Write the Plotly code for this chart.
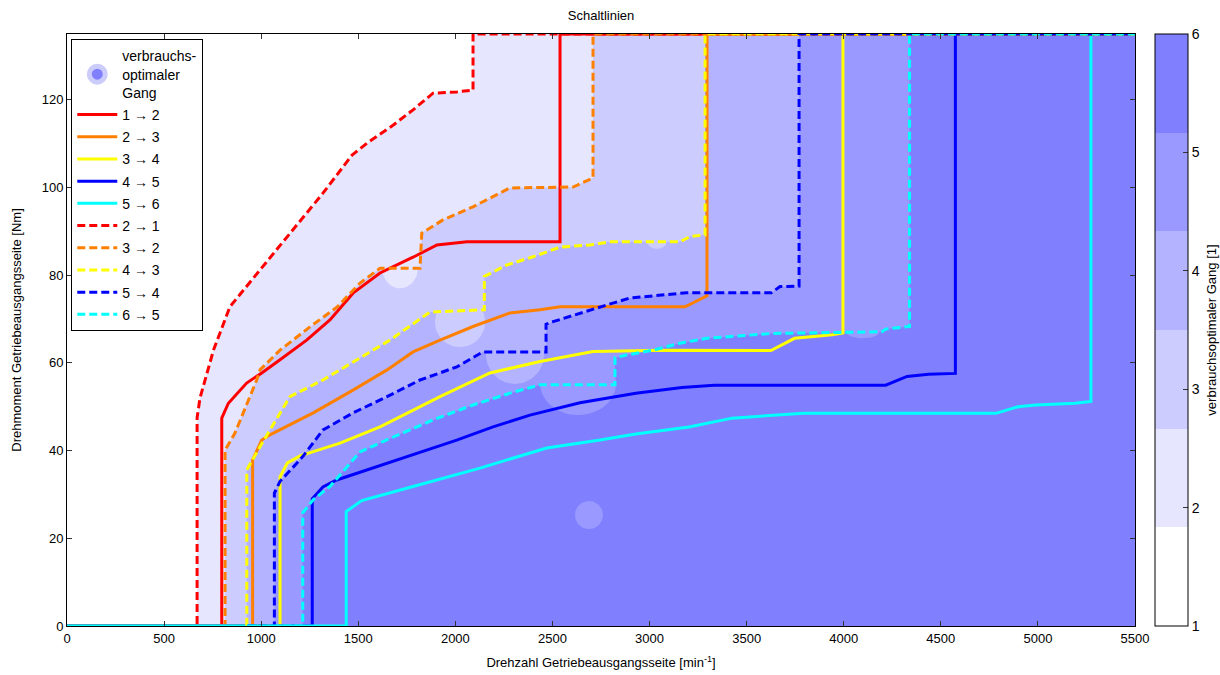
import numpy as np
import plotly.graph_objects as go

# ---------------- data: shift lines (speed [min^-1], torque [Nm]) ----------------
# upshift lines (solid)
x_1_2 = [0, 797, 797, 831, 925, 1003, 1097, 1234, 1354, 1473, 1612, 1782, 1905, 2060, 2539, 2539, 5500]
y_1_2 = [0, 0, 47.4, 50.8, 55.4, 57.7, 60.7, 65.2, 69.8, 75.9, 80.5, 84.1, 86.9, 87.6, 87.6, 135, 135]

x_2_3 = [0, 956, 956, 1003, 1045, 1268, 1473, 1648, 1782, 1921, 2091, 2281, 2436, 2539, 3183, 3296, 3296, 5500]
y_2_3 = [0, 0, 37.9, 42.4, 43.6, 48.6, 53.8, 58.4, 62.5, 65.2, 68.3, 71.4, 72.1, 72.8, 72.8, 75.3, 135, 135]

x_3_4 = [0, 1097, 1097, 1135, 1200, 1406, 1612, 1818, 1921, 2178, 2436, 2709, 3069, 3625, 3747, 3940, 3996, 3996, 5500]
y_3_4 = [0, 0, 34.0, 37.2, 38.8, 41.7, 45.4, 49.9, 52.3, 57.7, 60.3, 62.6, 62.9, 62.8, 65.6, 66.4, 66.8, 135, 135]

x_4_5 = [0, 1263, 1263, 1318, 1389, 1543, 1782, 2007, 2194, 2384, 2642, 2929, 3167, 3332, 4216, 4326, 4437, 4575, 4575, 5500]
y_4_5 = [0, 0, 29.0, 31.7, 33.3, 35.6, 39.0, 42.4, 45.4, 48.1, 50.9, 53.1, 54.4, 54.9, 54.9, 56.9, 57.4, 57.6, 135, 135]

x_5_6 = [0, 1438, 1438, 1518, 1782, 2127, 2470, 2745, 2929, 3203, 3425, 3793, 4784, 4897, 4989, 5191, 5273, 5273, 5500]
y_5_6 = [0, 0, 26.1, 28.6, 31.8, 36.0, 40.6, 42.4, 43.8, 45.4, 47.4, 48.5, 48.5, 50.0, 50.4, 50.8, 51.2, 135, 135]

# downshift lines (dashed)
x_2_1 = [0, 670, 670, 685, 755, 839, 994, 1164, 1318, 1468, 1545, 1679, 1782, 1885, 2008, 2091, 2091, 5500]
y_2_1 = [0, 0, 47.5, 52.0, 63.0, 72.8, 81.2, 90.3, 98.7, 107.4, 110.1, 114.2, 117.7, 121.5, 121.8, 122.2, 135, 135]

x_3_2 = [0, 814, 814, 865, 977, 994, 1097, 1251, 1390, 1509, 1612, 1818, 1827, 1936, 2091, 2281, 2606, 2709, 2709, 5500]
y_3_2 = [0, 0, 40.1, 44.0, 56.1, 58.4, 62.9, 68.2, 72.7, 78.2, 81.6, 81.6, 89.6, 92.6, 95.6, 99.9, 100.1, 102.2, 135, 135]

x_4_3 = [0, 926, 926, 994, 1148, 1318, 1493, 1663, 1869, 2149, 2149, 2264, 2400, 2539, 2693, 2796, 3157, 3208, 3286, 3286, 5500]
y_4_3 = [0, 0, 35.6, 40.9, 52.3, 56.1, 60.7, 65.2, 71.6, 72.1, 79.7, 82.3, 84.2, 86.4, 86.9, 87.6, 87.6, 88.8, 89.2, 135, 135]

x_5_4 = [0, 1068, 1068, 1097, 1183, 1217, 1318, 1370, 1473, 1648, 1818, 2008, 2142, 2467, 2467, 2503, 2642, 2779, 2899, 3088, 3191, 3627, 3672, 3770, 3770, 5500]
y_5_4 = [0, 0, 30.3, 33.0, 37.1, 38.8, 44.7, 46.0, 48.6, 52.3, 56.1, 59.1, 62.5, 62.5, 68.8, 69.4, 71.4, 73.2, 74.8, 75.5, 76.0, 76.0, 77.4, 77.5, 135, 135]

x_6_5 = [0, 1214, 1214, 1268, 1354, 1509, 1680, 1885, 2091, 2281, 2436, 2822, 2822, 2882, 3018, 3157, 3294, 3625, 4197, 4216, 4336, 4339, 4339, 5500]
y_6_5 = [0, 0, 25.8, 28.8, 31.8, 39.7, 43.1, 47.0, 50.4, 53.1, 55.0, 55.0, 61.2, 61.8, 62.9, 64.5, 65.6, 66.7, 67.1, 67.7, 68.3, 68.3, 135, 135]

# small islands of the next lower gear inside a gear region
blob_host_gear = [3, 4, 5, 6, 6, 4, 6]
blob_x = [1715, 2024, 2307, 2632, 2688, 3038, 4099]
blob_y = [81.6, 69.3, 62.0, 55.4, 25.3, 87.6, 67.0]
blob_rx = [92, 129, 150, 196, 72, 50, 85]
blob_ry = [4.6, 5.7, 6.8, 7.3, 3.2, 1.6, 1.4]

gear_levels = [1, 2, 3, 4, 5, 6]
x_ticks = list(range(0, 5501, 500))
y_ticks = list(range(0, 121, 20))

# ---------------- styling ----------------
font_family = "Liberation Sans, Arial, Helvetica, sans-serif"
gear_colors = {
    1: "rgb(255,255,255)",
    2: "rgb(230,230,255)",
    3: "rgb(204,204,255)",
    4: "rgb(179,179,255)",
    5: "rgb(153,153,255)",
    6: "rgb(128,128,255)",
}
dash_style = "8px,4px"

fig = go.Figure()

# gear regions: each region lies to the right of its downshift line
down_lines = {2: (x_2_1, y_2_1), 3: (x_3_2, y_3_2), 4: (x_4_3, y_4_3),
              5: (x_5_4, y_5_4), 6: (x_6_5, y_6_5)}
x_max = x_ticks[-1]
theta = np.linspace(0, 2 * np.pi, 60)
for g in range(2, 7):
    xs, ys = down_lines[g]
    fig.add_trace(go.Scatter(
        x=list(xs) + [x_max], y=list(ys) + [0],
        fill="toself", fillcolor=gear_colors[g], mode="lines",
        line=dict(width=0, color=gear_colors[g]),
        showlegend=False, hoverinfo="skip"))
    for hg, bx, by, rx, ry in zip(blob_host_gear, blob_x, blob_y, blob_rx, blob_ry):
        if hg != g:
            continue
        fig.add_trace(go.Scatter(
            x=bx + rx * np.cos(theta), y=by + ry * np.sin(theta),
            fill="toself", fillcolor=gear_colors[g - 1], mode="lines",
            line=dict(width=0, color=gear_colors[g - 1]),
            showlegend=False, hoverinfo="skip"))

# legend entry for the region map
fig.add_trace(go.Scatter(
    x=[None], y=[None], mode="markers",
    marker=dict(symbol="circle", size=16, color=gear_colors[6],
                line=dict(width=5, color="rgb(204,204,250)")),
    name="verbrauchs-<br>optimaler<br>Gang", legendgroup="map"))

lines = [
    ("1 → 2", x_1_2, y_1_2, "rgb(255,0,0)", "solid"),
    ("2 → 3", x_2_3, y_2_3, "rgb(255,128,0)", "solid"),
    ("3 → 4", x_3_4, y_3_4, "rgb(255,255,0)", "solid"),
    ("4 → 5", x_4_5, y_4_5, "rgb(0,0,255)", "solid"),
    ("5 → 6", x_5_6, y_5_6, "rgb(0,255,255)", "solid"),
    ("2 → 1", x_2_1, y_2_1, "rgb(255,0,0)", dash_style),
    ("3 → 2", x_3_2, y_3_2, "rgb(255,128,0)", dash_style),
    ("4 → 3", x_4_3, y_4_3, "rgb(255,255,0)", dash_style),
    ("5 → 4", x_5_4, y_5_4, "rgb(0,0,255)", dash_style),
    ("6 → 5", x_6_5, y_6_5, "rgb(0,255,255)", dash_style),
]
for name, xs, ys, col, dash in lines:
    fig.add_trace(go.Scatter(
        x=xs, y=ys, mode="lines", name=name, legendgroup=name,
        line=dict(color=col, width=3, dash=dash)))

# colour bar for the optimal gear
n = len(gear_levels)
cscale = []
for i, g in enumerate(gear_levels):
    cscale.append([i / n, gear_colors[g]])
    cscale.append([(i + 1) / n, gear_colors[g]])
fig.add_trace(go.Scatter(
    x=[None], y=[None], mode="markers", showlegend=False, hoverinfo="skip",
    marker=dict(color=[gear_levels[0], gear_levels[-1]], colorscale=cscale,
                cmin=gear_levels[0], cmax=gear_levels[-1], showscale=True,
                colorbar=dict(
                    xref="container", x=1155 / 1220, xanchor="left",
                    y=0.5, yanchor="middle", len=1, lenmode="fraction",
                    thickness=33, thicknessmode="pixels", xpad=0, ypad=0,
                    outlinewidth=1, outlinecolor="black",
                    tickvals=gear_levels, ticks="inside", ticklen=5,
                    tickcolor="#333", tickfont=dict(size=14, family=font_family, color="black"),
                    title=dict(text="verbrauchsoptimaler Gang [1]", side="right",
                               font=dict(size=13, family=font_family, color="black")),
                ))))

axis_common = dict(
    showline=True, linecolor="black", linewidth=1, mirror="allticks",
    ticks="inside", ticklen=5, tickcolor="#333", showgrid=False, zeroline=False,
    tickfont=dict(size=13, family=font_family, color="black"),
)
fig.update_xaxes(range=[0, 5500], tickvals=x_ticks, **axis_common,
                 title=dict(text="Drehzahl Getriebeausgangsseite [min<sup>-1</sup>]",
                            standoff=13, font=dict(size=13, family=font_family, color="black")))
fig.update_yaxes(range=[0, 135], tickvals=y_ticks, **axis_common,
                 title=dict(text="Drehmoment Getriebeausgangsseite [Nm]",
                            standoff=17, font=dict(size=13, family=font_family, color="black")))

fig.update_layout(
    width=1220, height=675,
    margin=dict(l=67, r=85, t=34, b=49, autoexpand=False),
    paper_bgcolor="white", plot_bgcolor="white",
    title=dict(text="Schaltlinien", x=601 / 1220, xanchor="center",
               y=1 - 15 / 675, yanchor="middle",
               font=dict(size=13, family=font_family, color="black")),
    legend=dict(x=0.004, y=0.991, xanchor="left", yanchor="top",
                bgcolor="white", bordercolor="black", borderwidth=1,
                font=dict(size=14, family=font_family, color="black"),
                tracegroupgap=1, itemwidth=40,
                entrywidth=142, entrywidthmode="pixels"),
    showlegend=True,
)

fig.write_html("out.html")
